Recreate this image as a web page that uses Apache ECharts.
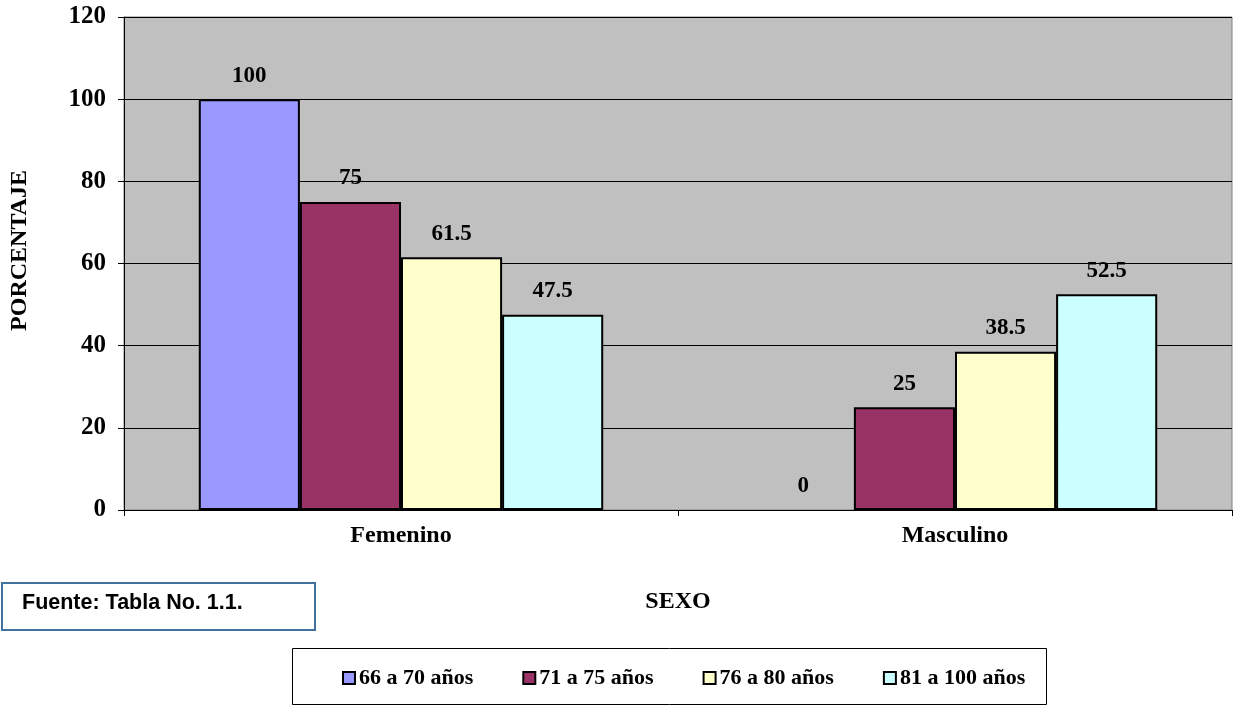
<!DOCTYPE html>
<html>
<head>
<meta charset="utf-8">
<script src="https://cdn.jsdelivr.net/npm/echarts@6/dist/echarts.min.js"></script>
<style>
  html, body { margin: 0; padding: 0; background: #fff; }
  #chart { width: 1234px; height: 705px; }
</style>
</head>
<body>
<div id="chart"></div>
<script>
// Categories on the x axis
const categories = ['Femenino', 'Masculino'];
// Age groups (one series each)
const seriesNames = ['66 a 70 años', '71 a 75 años', '76 a 80 años', '81 a 100 años'];
// Percentages per age group, by sex
const values66a70 = [100, 0];
const values71a75 = [75, 25];
const values76a80 = [61.5, 38.5];
const values81a100 = [47.5, 52.5];
const seriesColors = ['#9999FF', '#993366', '#FFFFCC', '#CCFFFF'];

const serif = '"Liberation Serif", "Times New Roman", serif';
const allValues = [values66a70, values71a75, values76a80, values81a100];

const chart = echarts.init(document.getElementById('chart'));

const series = seriesNames.map((name, i) => ({
  name: name,
  type: 'bar',
  // a zero-height bar gets no outline, only its label
  data: allValues[i].map(v => v === 0 ? { value: v, itemStyle: { borderWidth: 0 } } : v),
  barGap: '0%',
  barCategoryGap: '27%',
  itemStyle: { color: seriesColors[i], borderColor: '#000', borderWidth: 2 },
  label: {
    show: true,
    position: 'top',
    distance: 12,
    color: '#000',
    fontFamily: serif,
    fontWeight: 'bold',
    fontSize: 23
  },
  emphasis: { disabled: true }
}));

chart.setOption({
  animation: false,
  backgroundColor: '#fff',
  grid: {
    left: 124, right: 2, top: 17, bottom: 195,
    outerBoundsMode: 'none',
    containLabel: false,
    show: true,
    backgroundColor: '#C0C0C0',
    borderColor: '#808080',
    borderWidth: 1
  },
  legend: {
    left: 342,
    top: 667,
    padding: 0,
    itemWidth: 12,
    itemHeight: 12,
    itemGap: 49,
    icon: 'rect',
    itemStyle: { borderColor: '#000', borderWidth: 2 },
    textStyle: { fontFamily: serif, fontWeight: 'bold', fontSize: 22, color: '#000', padding: [0, 0, 0, -1] },
    data: seriesNames
  },
  xAxis: {
    type: 'category',
    data: categories,
    name: 'SEXO',
    nameLocation: 'middle',
    nameGap: 80,
    nameTextStyle: { fontFamily: serif, fontWeight: 'bold', fontSize: 24, color: '#000' },
    axisLine: { lineStyle: { color: '#000', width: 1 } },
    axisTick: { show: true, length: 6, lineStyle: { color: '#000' } },
    axisLabel: { fontFamily: serif, fontWeight: 'bold', fontSize: 24, color: '#000', margin: 14 }
  },
  yAxis: {
    type: 'value',
    min: 0, max: 120, interval: 20,
    name: 'PORCENTAJE',
    nameLocation: 'middle',
    nameGap: 92,
    nameRotate: 90,
    nameTextStyle: { fontFamily: serif, fontWeight: 'bold', fontSize: 24, color: '#000', padding: [0, 0, 0, 26] },
    axisLine: { show: true, lineStyle: { color: '#000', width: 1 } },
    axisTick: { show: true, length: 6, lineStyle: { color: '#000' } },
    axisLabel: { fontFamily: serif, fontWeight: 'bold', fontSize: 25, color: '#000', margin: 18 },
    splitLine: { show: true, lineStyle: { color: '#000', width: 1 } }
  },
  graphic: [
    {
      type: 'rect',
      shape: { x: 292.5, y: 648.5, width: 754, height: 56 },
      style: { fill: 'none', stroke: '#000', lineWidth: 1 },
      z: -1
    },
    {
      type: 'rect',
      shape: { x: 2, y: 583, width: 313, height: 47 },
      style: { fill: '#fff', stroke: '#41719C', lineWidth: 2 }
    },
    {
      type: 'text',
      left: 22, top: 592,
      style: { text: 'Fuente: Tabla No. 1.1.', fontFamily: '"Liberation Sans", Arial, sans-serif', fontWeight: 'bold', fontSize: 21.5, fill: '#000' }
    }
  ],
  series: series
});
</script>
</body>
</html>
